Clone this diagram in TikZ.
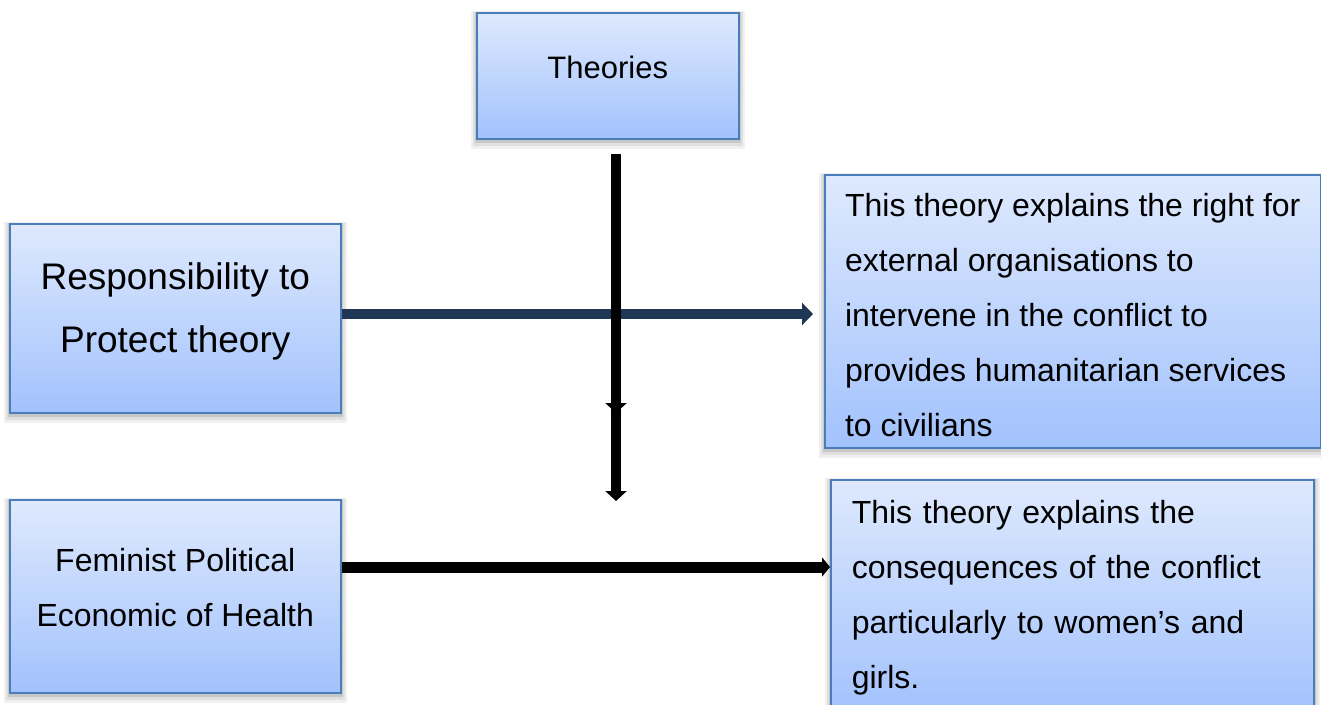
\documentclass[tikz,border=0pt]{standalone}
\usepackage{fontspec}
\setmainfont{Liberation Sans}
\usetikzlibrary{arrows.meta,backgrounds}
\definecolor{boxtop}{HTML}{DEE9FD}
\definecolor{boxbot}{HTML}{A2C2FD}
\definecolor{boxline}{HTML}{4A7EBB}
\definecolor{navy}{HTML}{1F3654}
\tikzset{
  box/.style={draw=boxline, line width=1.5pt, top color=boxtop, bottom color=boxbot,
    inner sep=0pt, anchor=north west, text=black},
  bodytext/.style={font=\fontsize{32}{55}\selectfont},
  blkarrow/.style={draw=black, line width=10pt,
    -{Triangle[length=10pt,width=21pt]}},
  navyarrow/.style={draw=navy, line width=10pt,
    -{Triangle[length=11pt,width=22pt]}}
}
\begin{document}
\begin{tikzpicture}[x=1pt,y=1pt]
\useasboundingbox (0,0) rectangle (1321,-704);

\node[box, minimum width=262pt, minimum height=126pt,
  font=\fontsize{31}{37}\selectfont, text depth=17pt] (t) at (476,-12) {Theories};
\node[box, minimum width=331pt, minimum height=189pt,
  label={[align=center, font=\fontsize{37}{63}\selectfont, yshift=7pt]center:{Responsibility to\\Protect theory}}]
  (r2p) at (9,-223) {};
\node[box, minimum width=331pt, minimum height=193pt,
  label={[align=center, bodytext, yshift=9pt]center:{Feminist Political\\Economic of Health}}]
  (fem) at (9,-499) {};
\node[box, minimum width=496pt, minimum height=273pt,
  label={[align=left, bodytext, yshift=-4pt]center:{This theory explains the right for\\external organisations to\\intervene in the conflict to\\provides humanitarian services\\to civilians}}]
  (d1) at (824,-174) {};
\node[box, minimum width=483pt, minimum height=235pt, text width=441pt, inner xsep=21pt,
  align=left, bodytext] (d2) at (830,-479)
  {This theory explains the\\consequences of the conflict\\particularly to women’s and\\girls.};

\begin{scope}[on background layer]
  \foreach \n in {t,r2p,fem,d1,d2}{
    \fill[black!6] ([shift={(-5,1)}]\n.north west) rectangle ([shift={(5,-9)}]\n.south east);
    \fill[black!12] ([shift={(-3,0)}]\n.north west) rectangle ([shift={(3,-6)}]\n.south east);
    \fill[black!22] ([shift={(-1,0)}]\n.north west) rectangle ([shift={(1,-3)}]\n.south east);
  }
\end{scope}

\coordinate (hy) at (0,-314);
\coordinate (by) at (0,-567);
\coordinate (vx) at (616,0);
\coordinate (vm) at (616,-413);
\coordinate (vs) at (616,-290);
\coordinate (ve) at (616,-501);

\draw[navyarrow, shorten >=11pt] (r2p.east |- hy) -- (d1.west |- hy);
\draw[blkarrow, shorten <=14pt] (t.south -| vx) -- (vm);
\draw[blkarrow] (vs) -- (ve);
\draw[blkarrow, line width=11pt, -{Triangle[length=8pt,width=19pt]}] (fem.east |- by) -- (d2.west |- by);
\end{tikzpicture}
\end{document}
